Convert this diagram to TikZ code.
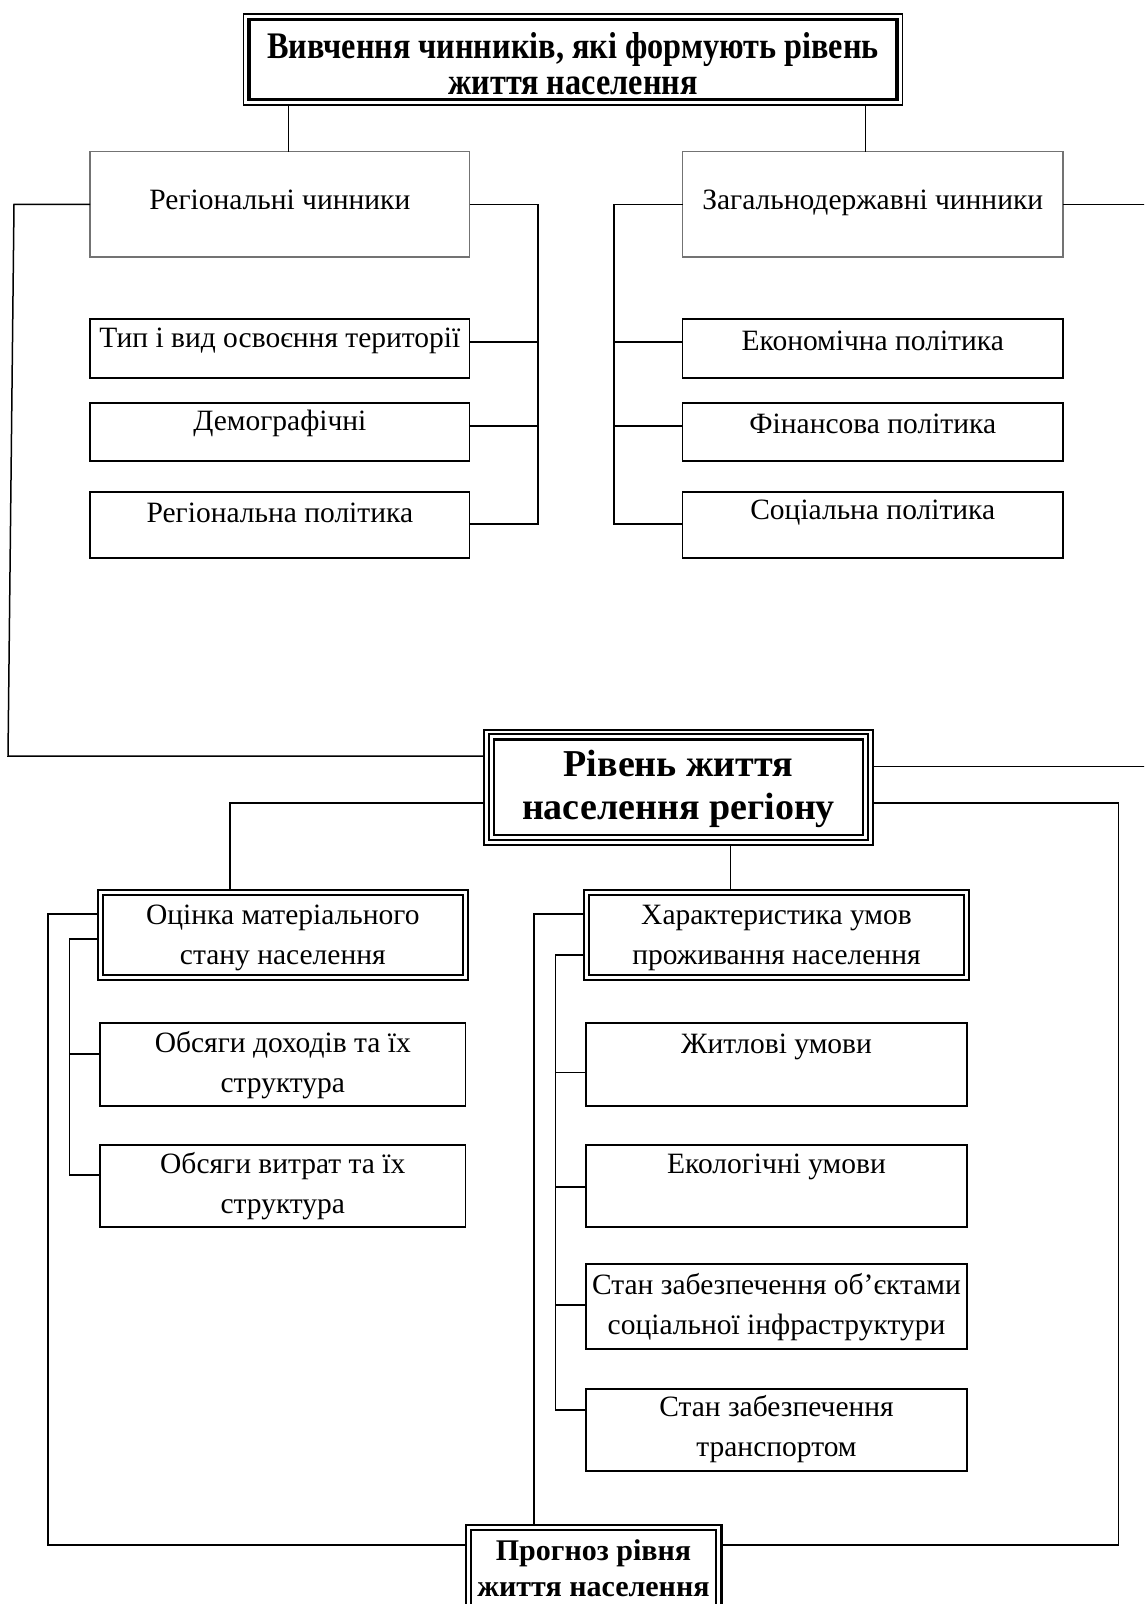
\documentclass[tikz,border=0pt]{standalone}
\usepackage{fontspec}
\setmainfont{Liberation Serif}
\newfontfamily\titlefont{Liberation Serif}[FakeStretch=0.86]
\begin{document}
\begin{tikzpicture}[x=1pt,y=-1pt,
  box/.style={draw, line width=1.5pt, rectangle, inner sep=0pt, outer sep=0pt},
  graybox/.style={draw=black!55, line width=1.3pt, rectangle, inner sep=0pt, outer sep=0pt},
  txt/.style={align=center, inner sep=0pt, font=\fontsize{29.5}{40}\selectfont},
  conn/.style={line width=1.5pt}
]
\useasboundingbox (0,0) rectangle (1144,1604);
\clip (0,0) rectangle (1144,1604);
\fill[white] (0,0) rectangle (1144,1604);

% top box
\node[draw, line width=1.3pt, rectangle, inner sep=0pt, outer sep=0pt, minimum width=659pt, minimum height=91pt] (top) at (573,59.5) {};
\draw[line width=3.5pt] ([shift={(5.5,5.5)}]top.north west) rectangle ([shift={(-5.5,-5.5)}]top.south east);
\node[align=center, inner sep=0pt, font=\titlefont\bfseries\fontsize{37.5}{36}\selectfont] (topt) at (573,64) {Вивчення чинників, які формують рівень\\життя населення};

% regional / national
\node[graybox, minimum width=379.7pt, minimum height=105.5pt] (reg) at (279.85,204.25) {};
\node[txt] (regt) at (279.85,199.5) {Регіональні чинники};
\node[graybox, minimum width=380.5pt, minimum height=105.5pt] (zag) at (872.75,204.25) {};
\node[txt] (zagt) at (872.75,202.6) {Загальнодержавні чинники};

% left children
\node[box, minimum width=379.7pt, minimum height=59pt] (t1) at (279.85,348.5) {};
\node[txt] (t1t) at (279.85,341) {Тип і вид освоєння території};
\node[box, minimum width=379.7pt, minimum height=58pt] (t2) at (279.85,432) {};
\node[txt] (t2t) at (279.85,423.6) {Демографічні};
\node[box, minimum width=379.7pt, minimum height=66pt] (t3) at (279.85,525) {};
\node[txt] (t3t) at (279.85,512.7) {Регіональна політика};

% right children
\node[box, minimum width=380.5pt, minimum height=59pt] (e1) at (872.75,348.5) {};
\node[txt] (e1t) at (872.75,340.8) {Економічна політика};
\node[box, minimum width=380.5pt, minimum height=58pt] (e2) at (872.75,432) {};
\node[txt] (e2t) at (872.75,423.6) {Фінансова політика};
\node[box, minimum width=380.5pt, minimum height=66pt] (e3) at (872.75,525) {};
\node[txt] (e3t) at (872.75,512.7) {Соціальна політика};

% central box
\node[draw, line width=2pt, rectangle, inner sep=0pt, outer sep=0pt, minimum width=389pt, minimum height=115.4pt] (riv) at (678.5,787.3) {};
\draw[line width=2pt] ([shift={(4.8,4.8)}]riv.north west) rectangle ([shift={(-4.8,-4.8)}]riv.south east);
\draw[line width=2.5pt] ([shift={(9.8,9.8)}]riv.north west) rectangle ([shift={(-9.8,-9.8)}]riv.south east);
\node[align=center, inner sep=0pt, font=\bfseries\fontsize{38}{43}\selectfont] (rivt) at (678.5,789) {Рівень життя\\населення регіону};

% second level
\node[draw, line width=2pt, rectangle, inner sep=0pt, outer sep=0pt, minimum width=369.6pt, minimum height=90pt] (oc) at (282.8,935) {};
\draw[line width=2.2pt] ([shift={(5,5)}]oc.north west) rectangle ([shift={(-5,-5)}]oc.south east);
\node[txt] (oct) at (282.8,938) {Оцінка матеріального\\стану населення};
\node[draw, line width=2pt, rectangle, inner sep=0pt, outer sep=0pt, minimum width=385pt, minimum height=90pt] (ha) at (776.5,935) {};
\draw[line width=2.2pt] ([shift={(5,5)}]ha.north west) rectangle ([shift={(-5,-5)}]ha.south east);
\node[txt] (hat) at (776.5,938) {Характеристика умов\\проживання населення};

% oc children
\node[box, minimum width=365.6pt, minimum height=83pt] (o1) at (282.8,1064.5) {};
\node[txt] (o1t) at (282.8,1065.5) {Обсяги доходів та їх\\структура};
\node[box, minimum width=365.6pt, minimum height=82pt] (o2) at (282.8,1186) {};
\node[txt] (o2t) at (282.8,1186) {Обсяги витрат та їх\\структура};

% ha children
\node[box, minimum width=381pt, minimum height=83pt] (h1) at (776.5,1064.5) {};
\node[txt] (h1t) at (776.5,1047) {Житлові умови};
\node[box, minimum width=381pt, minimum height=82pt] (h2) at (776.5,1186) {};
\node[txt] (h2t) at (776.5,1167) {Екологічні умови};
\node[box, minimum width=381pt, minimum height=85pt] (h3) at (776.5,1306.5) {};
\node[txt] (h3t) at (776.5,1307) {Стан забезпечення об’єктами\\соціальної інфраструктури};
\node[box, minimum width=381pt, minimum height=82pt] (h4) at (776.5,1430) {};
\node[txt] (h4t) at (776.5,1429.5) {Стан забезпечення\\транспортом};

% forecast
\node[draw, line width=2.2pt, rectangle, inner sep=0pt, outer sep=0pt, minimum width=255.8pt, minimum height=95pt] (prog) at (593.5,1572.5) {};
\draw[line width=2pt] ([shift={(5,5)}]prog.north west) rectangle ([shift={(-5,-5)}]prog.south east);
\node[align=center, inner sep=0pt, font=\bfseries\fontsize{30}{36}\selectfont] (progt) at (593.5,1568) {Прогноз рівня\\життя населення};

% connectors: top
\draw[conn] (top.south -| 288.5,0) -- (reg.north -| 288.5,0);
\draw[conn] (top.south -| 865.7,0) -- (zag.north -| 865.7,0);

% left bracket
\draw[conn] (reg.east) -- (538,204.25) -- (538,524) -- (538,524 -| t3.east);
\draw[conn] (538,342) -- (538,342 -| t1.east);
\draw[conn] (538,426) -- (538,426 -| t2.east);
% right bracket
\draw[conn] (zag.west) -- (614,204.25) -- (614,524) -- (614,524 -| e3.west);
\draw[conn] (614,342) -- (614,342 -| e1.west);
\draw[conn] (614,426) -- (614,426 -| e2.west);
% national to the edge
\draw[conn] (zag.east) -- (1150,204.25);

% big left loop
\draw[conn] (reg.west) -- (14,204.25) -- (8,756) -- (8,756 -| riv.west);
% right from central
\draw[conn] (1150,766.5 -| riv.east) -- (1150,766.5);
\draw[conn] (1118.5,803 -| riv.east) -- (1118.5,803) -- (1118.5,1545) -- (1118.5,1545 -| prog.east);
% central to second level
\draw[conn] (230,803 -| riv.west) -- (230,803) -- (230,0 |- oc.north);
\draw[conn] (730.6,0 |- riv.south) -- (730.6,0 |- ha.north);

% oc connectors
\draw[conn] (48,914 -| oc.west) -- (48,914) -- (48,1545) -- (48,1545 -| prog.west);
\draw[conn] (69.6,939 -| oc.west) -- (69.6,939) -- (69.6,1175) -- (69.6,1175 -| o2.west);
\draw[conn] (69.6,1054) -- (69.6,1054 -| o1.west);

% ha connectors
\draw[conn] (534,914 -| ha.west) -- (534,914) -- (534,0 |- prog.north);
\draw[conn] (555.6,955 -| ha.west) -- (555.6,955) -- (555.6,1410) -- (555.6,1410 -| h4.west);
\draw[conn] (555.6,1072.5) -- (555.6,1072.5 -| h1.west);
\draw[conn] (555.6,1187) -- (555.6,1187 -| h2.west);
\draw[conn] (555.6,1305) -- (555.6,1305 -| h3.west);
\end{tikzpicture}
\end{document}
